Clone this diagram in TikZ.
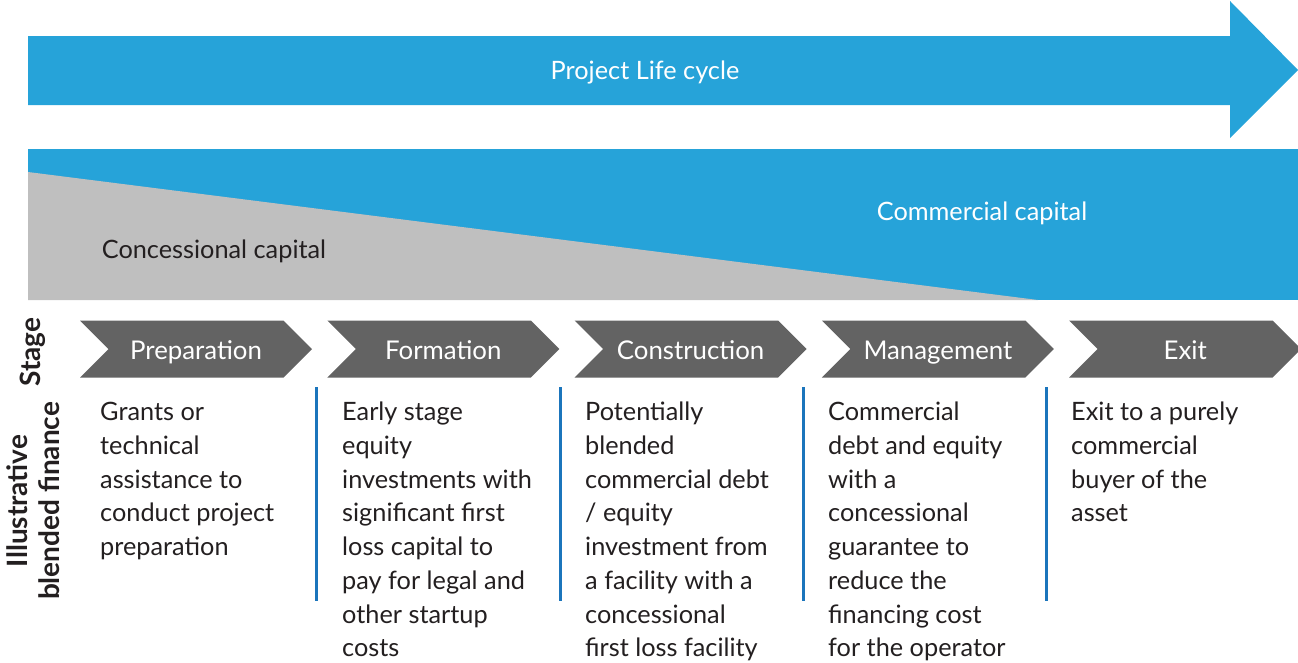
\documentclass[tikz,border=0pt]{standalone}
\usepackage{fontspec}
\setmainfont{Lato}
\usetikzlibrary{shapes.symbols, positioning}
\definecolor{lifeblue}{RGB}{38,163,217}
\definecolor{concgray}{RGB}{191,191,191}
\definecolor{stagegray}{RGB}{99,99,99}
\definecolor{ruleblue}{RGB}{27,117,188}
\definecolor{bodytext}{RGB}{35,31,32}
\newcommand{\bodyfont}{\fontsize{25.3}{33.7}\selectfont}

\begin{document}
\begin{tikzpicture}[x=1pt, y=-1pt,
  stagebox/.style={shape=signal, signal from=west, signal to=east, fill=stagegray,
    text=white, minimum width=232pt, minimum height=57pt, inner sep=0pt,
    text height=22pt, text depth=2pt, font=\fontsize{25.8}{30}\selectfont},
  financetext/.style={anchor=north west, align=left, inner sep=0pt, text=bodytext, font=\bodyfont},
  sidelabel/.style={rotate=90, align=center, inner sep=0pt, text=bodytext, font=\fontsize{28}{32}\selectfont\bfseries},
  divider/.style={ruleblue, line width=3pt}]
\useasboundingbox (0,0) rectangle (1298,662);

% life cycle arrow
\fill[lifeblue] (28,36) -- (1230,36) -- (1230,1) -- (1298,70) -- (1230,138)
  -- (1230,105) -- (28,105) -- cycle;
\node[text=white, font=\bodyfont] (lifecycle) at (645,72) {Project Life cycle};

% capital mix
\fill[lifeblue] (28,149) rectangle (1298,300);
\fill[concgray] (28,172) -- (1038,300) -- (28,300) -- cycle;
\node[text=white, font=\bodyfont] (commercial) at (982,213) {Commercial capital};
\node[text=bodytext, font=\bodyfont] (concessional) at (214,251) {Concessional capital};

% stages
\foreach \name/\lbl [count=\i from 0] in {prep/Preparation, form/Formation,
    constr/Construction, manage/Management, exit/Exit}
  \node[stagebox] (\name) at (196+247.3*\i,349) {\lbl};

\node[sidelabel] (stagelbl) at (33,352) {Stage};
\node[sidelabel] (financelbl) at (33,501) {Illustrative\\blended finance};

% dividers
\foreach \x in {316,560,803,1046}
  \draw[divider] (\x,387) -- (\x,601);

% illustrative finance per stage
\node[financetext] (preptext) at (100,397) {\strut Grants or\\technical\\assistance to\\conduct project\\preparation};
\node[financetext] (formtext) at (342,397) {\strut Early stage\\equity\\investments with\\significant first\\loss capital to\\pay for legal and\\other startup\\costs};
\node[financetext] (constrtext) at (585,397) {\strut Potentially\\blended\\commercial debt\\/ equity\\investment from\\a facility with a\\concessional\\first loss facility};
\node[financetext] (managetext) at (828,397) {\strut Commercial\\debt and equity\\with a\\concessional\\guarantee to\\reduce the\\financing cost\\for the operator};
\node[financetext] (exittext) at (1071,397) {\strut Exit to a purely\\commercial\\buyer of the\\asset};
\end{tikzpicture}
\end{document}
